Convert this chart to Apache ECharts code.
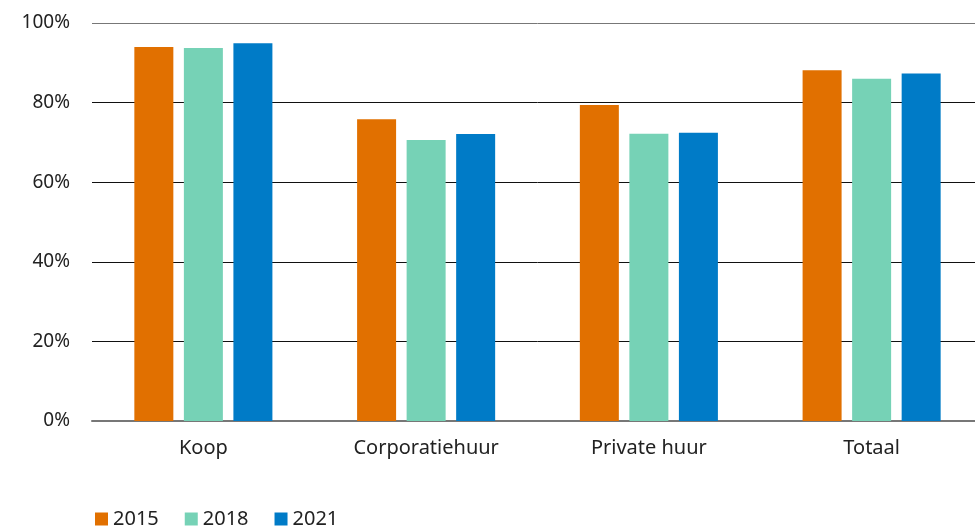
<!DOCTYPE html>
<html>
<head>
<meta charset="utf-8">
<script src="https://cdn.jsdelivr.net/npm/echarts@6/dist/echarts.min.js"></script>
<style>html,body{margin:0;padding:0;background:#fff;overflow:hidden;width:975px;height:527px;}#c{width:983px;height:527px;}</style>
</head>
<body>
<div id="c"></div>
<script>
const categories = ['Koop', 'Corporatiehuur', 'Private huur', 'Totaal'];
const seriesNames = ['2015', '2018', '2021'];
const v2015 = [94.0, 75.8, 79.4, 88.1];
const v2018 = [93.7, 70.6, 72.2, 86.0];
const v2021 = [94.9, 72.1, 72.4, 87.3];
const yTicks = [0, 20, 40, 60, 80, 100];
const colors = ['#E17000', '#76D2B6', '#007BC7'];

const chart = echarts.init(document.getElementById('c'));
const font = '"Noto Sans", sans-serif';
chart.setOption({
  animation: false,
  textStyle: { fontFamily: font },
  grid: { left: 92, right: 0, top: 23, bottom: 106, containLabel: false },
  legend: {
    left: 90, top: 504,
    itemWidth: 13, itemHeight: 13, itemGap: 26,
    icon: 'rect',
    textStyle: { fontSize: 20, color: '#222', fontFamily: font },
    data: seriesNames
  },
  xAxis: {
    type: 'category',
    data: categories,
    axisLine: { lineStyle: { color: '#777', width: 2 } },
    axisTick: { show: false },
    axisLabel: { fontSize: 20, color: '#222', margin: 17, fontFamily: font }
  },
  yAxis: {
    type: 'value',
    min: 0, max: 100, interval: 20,
    axisLine: { show: false },
    axisTick: { show: false },
    axisLabel: {
      fontSize: 19, color: '#222', margin: 22, fontFamily: font,
      formatter: v => yTicks.includes(v) ? v + '%' : ''
    },
    splitLine: { lineStyle: { color: ['#777', '#111', '#111', '#111', '#111', '#777'], width: 1 } }
  },
  series: [
    { name: seriesNames[0], type: 'bar', data: v2015, itemStyle: { color: colors[0] }, barWidth: 39, barGap: '27%' },
    { name: seriesNames[1], type: 'bar', data: v2018, itemStyle: { color: colors[1] }, barWidth: 39, barGap: '27%' },
    { name: seriesNames[2], type: 'bar', data: v2021, itemStyle: { color: colors[2] }, barWidth: 39, barGap: '27%' }
  ]
});
</script>
</body>
</html>
